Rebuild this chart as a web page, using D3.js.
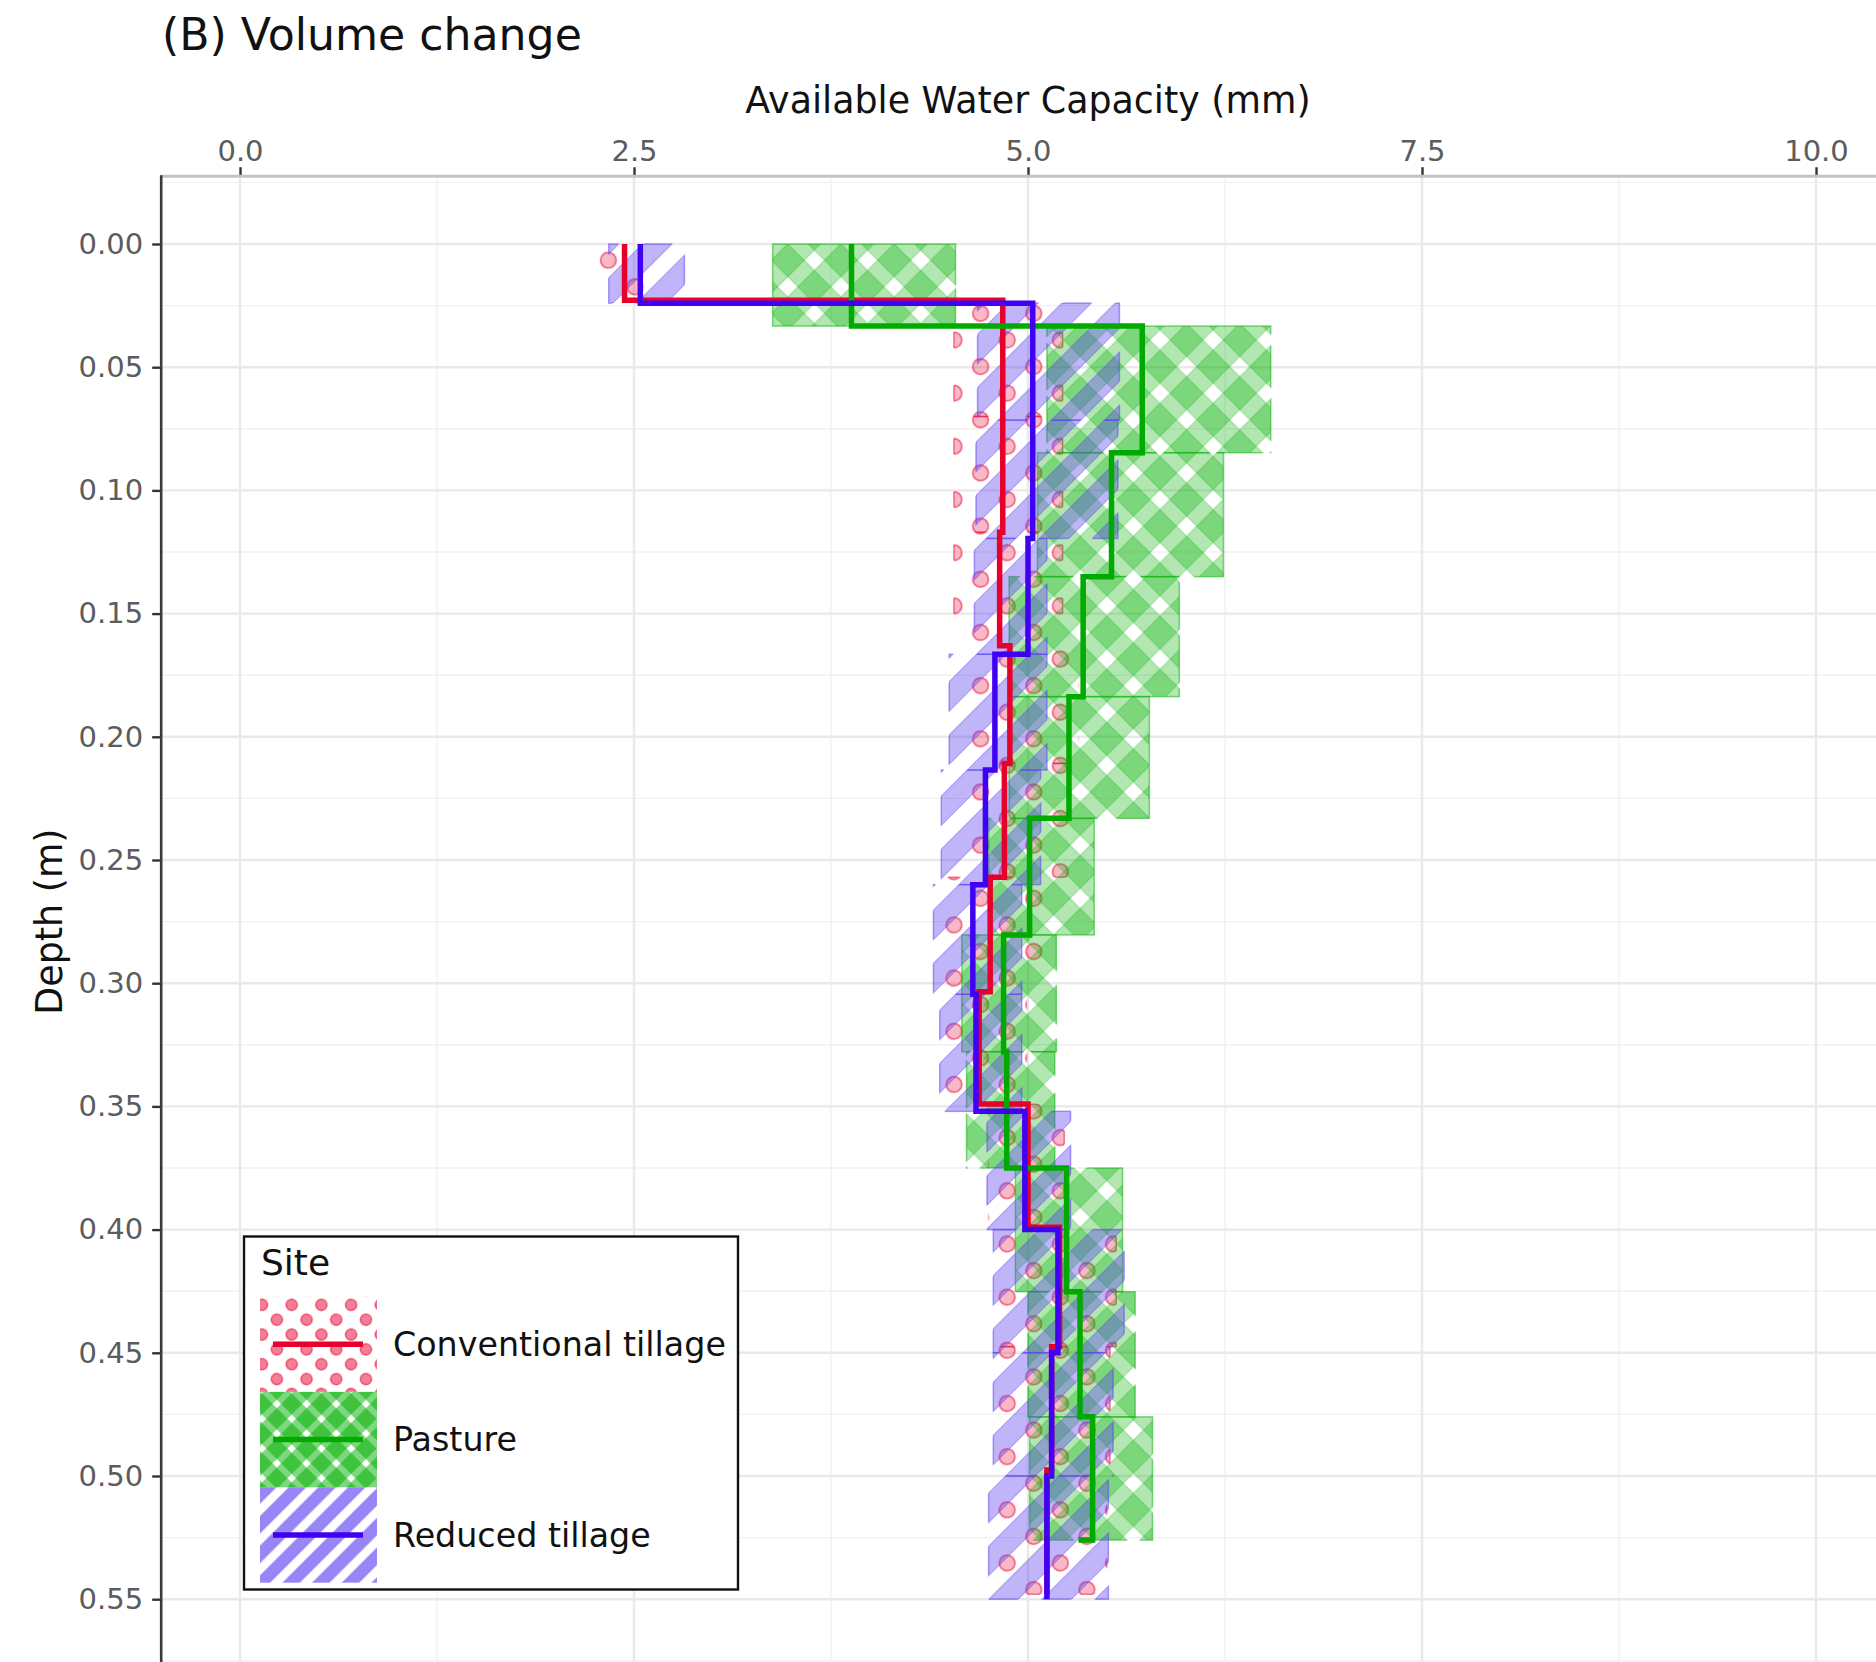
<!DOCTYPE html>
<html>
<head>
<meta charset="utf-8">
<script src="https://cdn.jsdelivr.net/npm/d3@7"></script>
<style>
  html, body { margin: 0; padding: 0; background: #ffffff; }
  svg { display: block; font-family: "DejaVu Sans", "Liberation Sans", sans-serif; }
</style>
</head>
<body>
<svg id="chart" width="1876" height="1662"></svg>
<script>
// ---------------------------------------------------------------
// Data: available water capacity (mm) by soil layer.
// Depth arrays hold the top of each layer; the final entry is the
// bottom of the profile. Low/high give the band for each layer.
// ---------------------------------------------------------------
const siteNames = ["Conventional tillage", "Pasture", "Reduced tillage"];

// Conventional tillage
const ctDepth = [0, 0.0228, 0.070, 0.117, 0.163, 0.2108, 0.257, 0.3035, 0.349, 0.399, 0.4475, 0.4976, 0.548];
const ctMean  = [2.44, 4.84, 4.84, 4.82, 4.885, 4.85, 4.76, 4.69, 5.00, 5.20, 5.15, 5.12, 5.12];
const ctLow   = [2.28, 4.53, 4.53, 4.53, 4.62, 4.60, 4.42, 4.45, 4.75, 4.80, 4.78, 4.76];
const ctHigh  = [2.62, 5.22, 5.22, 5.22, 5.32, 5.30, 5.12, 4.99, 5.23, 5.56, 5.52, 5.50];

// Pasture
const paDepth = [0, 0.0333, 0.0847, 0.135, 0.1837, 0.2331, 0.2804, 0.3278, 0.375, 0.4252, 0.476, 0.526];
const paMean  = [3.88, 5.725, 5.53, 5.35, 5.26, 5.01, 4.845, 4.865, 5.245, 5.33, 5.41, 5.32];
const paLow   = [3.38, 5.12, 5.06, 4.88, 4.88, 4.75, 4.58, 4.61, 4.92, 5.00, 5.01];
const paHigh  = [4.54, 6.54, 6.24, 5.96, 5.77, 5.42, 5.18, 5.17, 5.60, 5.68, 5.79];

// Reduced tillage
const rtDepth = [0, 0.024, 0.0715, 0.1195, 0.1665, 0.2135, 0.26, 0.3045, 0.352, 0.40, 0.45, 0.50, 0.55];
const rtMean  = [2.54, 5.03, 5.03, 5.00, 4.79, 4.73, 4.65, 4.67, 4.98, 5.19, 5.15, 5.12, 5.12];
const rtLow   = [2.34, 4.68, 4.67, 4.66, 4.50, 4.45, 4.40, 4.44, 4.74, 4.78, 4.78, 4.75];
const rtHigh  = [2.82, 5.58, 5.57, 5.12, 5.12, 5.08, 4.96, 4.96, 5.27, 5.61, 5.54, 5.51];

// Axis breaks and labels
const xTicks = [0, 2.5, 5, 7.5, 10];
const xTickLabels = ["0.0", "2.5", "5.0", "7.5", "10.0"];
const xMinor = [1.25, 3.75, 6.25, 8.75];
const yTicks = [0, 0.05, 0.10, 0.15, 0.20, 0.25, 0.30, 0.35, 0.40, 0.45, 0.50, 0.55];
const yTickLabels = ["0.00", "0.05", "0.10", "0.15", "0.20", "0.25", "0.30", "0.35", "0.40", "0.45", "0.50", "0.55"];
const yMinor = [-0.025, 0.025, 0.075, 0.125, 0.175, 0.225, 0.275, 0.325, 0.375, 0.425, 0.475, 0.525, 0.575];

const titleText = "(B) Volume change";
const xTitle = "Available Water Capacity (mm)";
const yTitle = "Depth (m)";
const legendTitle = "Site";

// ---------------------------------------------------------------
// Appearance
// ---------------------------------------------------------------
const W = 1876, H = 1662;
const styles = {
  ct: { kind: "circle",     colour: "#e8002d", line: "#e6002b" },
  pa: { kind: "crosshatch", colour: "#00b000", line: "#00aa00" },
  rt: { kind: "stripe",     colour: "#5a3cf0", line: "#4000f2" }
};

const sites = [
  { key: "ct", name: siteNames[0], depth: ctDepth, mean: ctMean, low: ctLow, high: ctHigh },
  { key: "pa", name: siteNames[1], depth: paDepth, mean: paMean, low: paLow, high: paHigh },
  { key: "rt", name: siteNames[2], depth: rtDepth, mean: rtMean, low: rtLow, high: rtHigh }
];

const svg = d3.select("#chart");

// Scales: value across the top, depth increasing downward
const x = d3.scaleLinear().domain([-0.5, 10.5]).range([161.2, 1894.8]);
const y = d3.scaleLinear().domain([-0.0275, 0.5775]).range([176.24, 1666.96]);

const panelLeft = x.range()[0], panelTop = y.range()[0];

// ---------------------------------------------------------------
// Fill patterns (dots, crosshatch, stripes), all rotated 45 degrees
// ---------------------------------------------------------------
const defs = svg.append("defs");

function makePattern(id, kind, s, opt, tx, ty, solid) {
  const p = defs.append("pattern").attr("id", id)
    .attr("patternUnits", "userSpaceOnUse")
    .attr("width", s).attr("height", s)
    .attr("patternTransform", `translate(${tx},${ty}) rotate(45)`);
  const c = opt.colour;
  if (kind === "circle") {
    const circ = p.append("circle").attr("cx", s / 2).attr("cy", s / 2).attr("r", opt.r)
      .attr("fill", c).attr("fill-opacity", solid ? 1 : opt.op);
    if (!solid) circ.attr("stroke", c).attr("stroke-opacity", opt.lineOp).attr("stroke-width", opt.lw);
    return;
  }
  const a = (s - opt.w) / 2;
  const dirs = kind === "crosshatch" ? ["v", "h"] : ["v"];
  dirs.forEach(dir => {
    if (dir === "v") {
      p.append("rect").attr("x", a).attr("y", -1).attr("width", opt.w).attr("height", s + 2)
        .attr("fill", c).attr("fill-opacity", solid ? 1 : opt.op);
      if (!solid) {
        [a, a + opt.w].forEach(lx => p.append("line")
          .attr("x1", lx).attr("x2", lx).attr("y1", -1).attr("y2", s + 1)
          .attr("stroke", c).attr("stroke-opacity", opt.lineOp).attr("stroke-width", opt.lw));
      }
    } else {
      p.append("rect").attr("x", -1).attr("y", a).attr("width", s + 2).attr("height", opt.w)
        .attr("fill", c).attr("fill-opacity", solid ? 1 : opt.op);
      if (!solid) {
        [a, a + opt.w].forEach(ly => p.append("line")
          .attr("y1", ly).attr("y2", ly).attr("x1", -1).attr("x2", s + 1)
          .attr("stroke", c).attr("stroke-opacity", opt.lineOp).attr("stroke-width", opt.lw));
      }
    }
  });
}

const S = 37.6;   // pattern spacing in the panel
const plotOpts = {
  ct: { colour: styles.ct.colour, r: 7.8, op: 0.28, lineOp: 0.55, lw: 1.6 },
  pa: { colour: styles.pa.colour, w: 0.62 * S, op: 0.30, lineOp: 0.30, lw: 1 },
  rt: { colour: styles.rt.colour, w: 0.55 * S, op: 0.38, lineOp: 0.45, lw: 1 }
};
const plotOrigin = { ct: [954, 313.4], pa: [1160, 340], rt: [1000, 300] };

sites.forEach(s => {
  const o = plotOrigin[s.key];
  makePattern(`fill-${s.key}`, styles[s.key].kind, S, plotOpts[s.key], o[0], o[1], false);
  makePattern(`edge-${s.key}`, styles[s.key].kind, S, plotOpts[s.key], o[0], o[1], true);
});

const LS = 21;    // pattern spacing in the legend keys
const legendOpts = {
  ct: { colour: styles.ct.colour, r: 5.6, op: 0.5, lineOp: 0.65, lw: 1.2 },
  pa: { colour: styles.pa.colour, w: 0.68 * LS, op: 0.50, lineOp: 0.35, lw: 0.8 },
  rt: { colour: styles.rt.colour, w: 0.55 * LS, op: 0.62, lineOp: 0.5, lw: 0.8 }
};
const legendOrigin = { ct: [262, 1290], pa: [262, 1300], rt: [262, 1300] };
sites.forEach(s => {
  const o = legendOrigin[s.key];
  makePattern(`key-${s.key}`, styles[s.key].kind, LS, legendOpts[s.key], o[0], o[1], false);
});

defs.append("clipPath").attr("id", "panel-clip")
  .append("rect").attr("x", panelLeft).attr("y", panelTop)
  .attr("width", W - panelLeft).attr("height", H - panelTop);

// ---------------------------------------------------------------
// Grid
// ---------------------------------------------------------------
const grid = svg.append("g").attr("clip-path", "url(#panel-clip)");
grid.selectAll(".vminor").data(xMinor).join("line")
  .attr("x1", d => x(d)).attr("x2", d => x(d)).attr("y1", panelTop).attr("y2", H)
  .attr("stroke", "#f1f1f1").attr("stroke-width", 1.4);
grid.selectAll(".hminor").data(yMinor).join("line")
  .attr("y1", d => y(d)).attr("y2", d => y(d)).attr("x1", panelLeft).attr("x2", W)
  .attr("stroke", "#f1f1f1").attr("stroke-width", 1.4);
grid.selectAll(".vmajor").data(xTicks).join("line")
  .attr("x1", d => x(d)).attr("x2", d => x(d)).attr("y1", panelTop).attr("y2", H)
  .attr("stroke", "#e9e9e9").attr("stroke-width", 2.4);
grid.selectAll(".hmajor").data(yTicks).join("line")
  .attr("y1", d => y(d)).attr("y2", d => y(d)).attr("x1", panelLeft).attr("x2", W)
  .attr("stroke", "#e9e9e9").attr("stroke-width", 2.4);

// ---------------------------------------------------------------
// Layer bands and stepped profile lines
// ---------------------------------------------------------------
const plot = svg.append("g").attr("clip-path", "url(#panel-clip)");

sites.forEach(s => {
  const layers = s.low.map((lo, i) => ({ low: lo, high: s.high[i], top: s.depth[i], bottom: s.depth[i + 1] }));
  plot.append("g").selectAll("rect").data(layers).join("rect")
    .attr("x", d => x(d.low)).attr("y", d => y(d.top))
    .attr("width", d => x(d.high) - x(d.low))
    .attr("height", d => y(d.bottom) - y(d.top))
    .attr("fill", `url(#fill-${s.key})`)
    .attr("stroke", `url(#edge-${s.key})`)
    .attr("stroke-width", 1.5)
    .attr("stroke-opacity", 0.5);
});

const profile = d3.line()
  .x(d => x(d.v))
  .y(d => y(d.d))
  .curve(d3.curveStepBefore);

sites.forEach(s => {
  const pts = s.depth.map((d, i) => ({ d: d, v: s.mean[i] }));
  plot.append("path").datum(pts)
    .attr("d", profile)
    .attr("fill", "none")
    .attr("stroke", styles[s.key].line)
    .attr("stroke-width", 5.5)
    .attr("stroke-linejoin", "miter")
    .attr("stroke-linecap", "butt");
});

// ---------------------------------------------------------------
// Axes
// ---------------------------------------------------------------
const xAxis = d3.axisTop(x).tickValues(xTicks)
  .tickFormat((d, i) => xTickLabels[i]).tickSize(9).tickPadding(6.5);
const gx = svg.append("g").attr("transform", `translate(0,${panelTop})`).call(xAxis);
gx.select(".domain").remove();
gx.selectAll(".tick line").attr("stroke", "#333333").attr("stroke-width", 2.4);
gx.selectAll(".tick text").attr("fill", "#5c5c5c").attr("font-size", 29)
  .attr("font-family", "DejaVu Sans, sans-serif");

const yAxis = d3.axisLeft(y).tickValues(yTicks)
  .tickFormat((d, i) => yTickLabels[i]).tickSize(9).tickPadding(9);
const gy = svg.append("g").attr("transform", `translate(${panelLeft},0)`).call(yAxis);
gy.select(".domain").remove();
gy.selectAll(".tick line").attr("stroke", "#333333").attr("stroke-width", 2.4);
gy.selectAll(".tick text").attr("fill", "#5c5c5c").attr("font-size", 29)
  .attr("font-family", "DejaVu Sans, sans-serif");

// axis lines: light along the top, dark down the left side
svg.append("line").attr("x1", panelLeft).attr("x2", W).attr("y1", panelTop).attr("y2", panelTop)
  .attr("stroke", "#c4c4c4").attr("stroke-width", 3);
svg.append("line").attr("x1", panelLeft).attr("x2", panelLeft).attr("y1", panelTop - 1).attr("y2", H)
  .attr("stroke", "#3a3a3a").attr("stroke-width", 2.6);

// Titles
svg.append("text").attr("x", 162).attr("y", 50)
  .attr("font-size", 44.2).attr("fill", "#111").text(titleText);
svg.append("text").attr("x", x(5)).attr("y", 113).attr("text-anchor", "middle")
  .attr("font-size", 36.4).attr("fill", "#111").text(xTitle);
svg.append("text").attr("transform", `translate(61.5,${y(0.275)}) rotate(-90)`)
  .attr("text-anchor", "middle").attr("font-size", 36.4).attr("fill", "#111").text(yTitle);

// ---------------------------------------------------------------
// Legend
// ---------------------------------------------------------------
const legend = svg.append("g");
legend.append("rect").attr("x", 244).attr("y", 1236.5).attr("width", 494).attr("height", 353)
  .attr("fill", "#ffffff").attr("stroke", "#111").attr("stroke-width", 2.4);
legend.append("text").attr("x", 261).attr("y", 1275).attr("font-size", 36).attr("fill", "#111")
  .text(legendTitle);

const keyX = 260, keyW = 117, keyTop = 1296.5, keyH = 95.4;
sites.forEach((s, i) => {
  const ky = keyTop + i * keyH;
  legend.append("rect").attr("x", keyX).attr("y", ky).attr("width", keyW).attr("height", keyH)
    .attr("fill", `url(#key-${s.key})`);
  legend.append("line").attr("x1", keyX + 13).attr("x2", keyX + 103)
    .attr("y1", ky + keyH / 2).attr("y2", ky + keyH / 2)
    .attr("stroke", styles[s.key].line).attr("stroke-width", 5.5);
  legend.append("text").attr("x", 393).attr("y", ky + keyH / 2).attr("dy", "0.35em")
    .attr("font-size", 33.3).attr("fill", "#111").text(s.name);
});
</script>
</body>
</html>
